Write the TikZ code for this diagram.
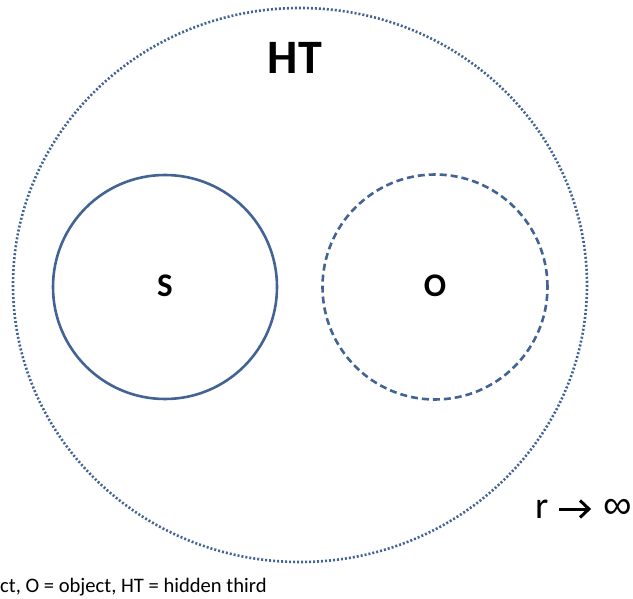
\documentclass[tikz,border=0pt]{standalone}
\usepackage{fontspec}
\setmainfont{Carlito}
\newfontfamily\symfont{Liberation Sans}
\definecolor{ringblue}{RGB}{66,99,148}
\begin{document}
\begin{tikzpicture}[x=1pt,y=-1pt,
  ring/.style={draw=ringblue, line width=2.6pt},
  outerring/.style={draw=ringblue, line width=2.6pt, dash pattern=on 2pt off 2pt},
  label/.style={font=\bfseries\fontsize{33}{33}\selectfont, inner sep=0pt}]
\useasboundingbox (0,0) rectangle (633,599);
% hidden third: the enclosing dotted region
\draw[outerring] (300,285) ellipse [x radius=287, y radius=277];
\node[font=\bfseries\fontsize{48}{48}\selectfont, inner sep=0pt] (ht) at (295,58) {HT};
% subject and object
\node[ring, circle, minimum size=224pt, inner sep=0pt] (s) at (165,287) {};
\node[ring, circle, minimum size=225pt, inner sep=0pt, dash pattern=on 7pt off 4pt] (o) at (435,287) {};
\node[label] (sl) at (165,286) {S};
\node[label] (ol) at (435,286) {O};
% limit annotation: r, an open-headed arrow, infinity
\node[font=\fontsize{38}{38}\selectfont, inner sep=0pt, anchor=base west] (rr) at (535,518) {r};
\node[font=\symfont\fontsize{40}{40}\selectfont, inner sep=0pt, anchor=base east] (inf) at (632,518) {∞};
\coordinate (arrs) at (559,509);
\coordinate (arre) at (589,509);
\draw[line width=3pt] (arrs) -- ([xshift=-2pt]arre);
\draw[line width=3pt, line join=miter] ([shift={(-9,-8.5)}]arre) -- (arre) -- ([shift={(-9,8.5)}]arre);
% legend line
\node[font=\fontsize{20.6}{20.6}\selectfont, inner sep=0pt, anchor=base west] (legend) at (0,592) {ct, O = object, HT = hidden third};
\end{tikzpicture}
\end{document}
